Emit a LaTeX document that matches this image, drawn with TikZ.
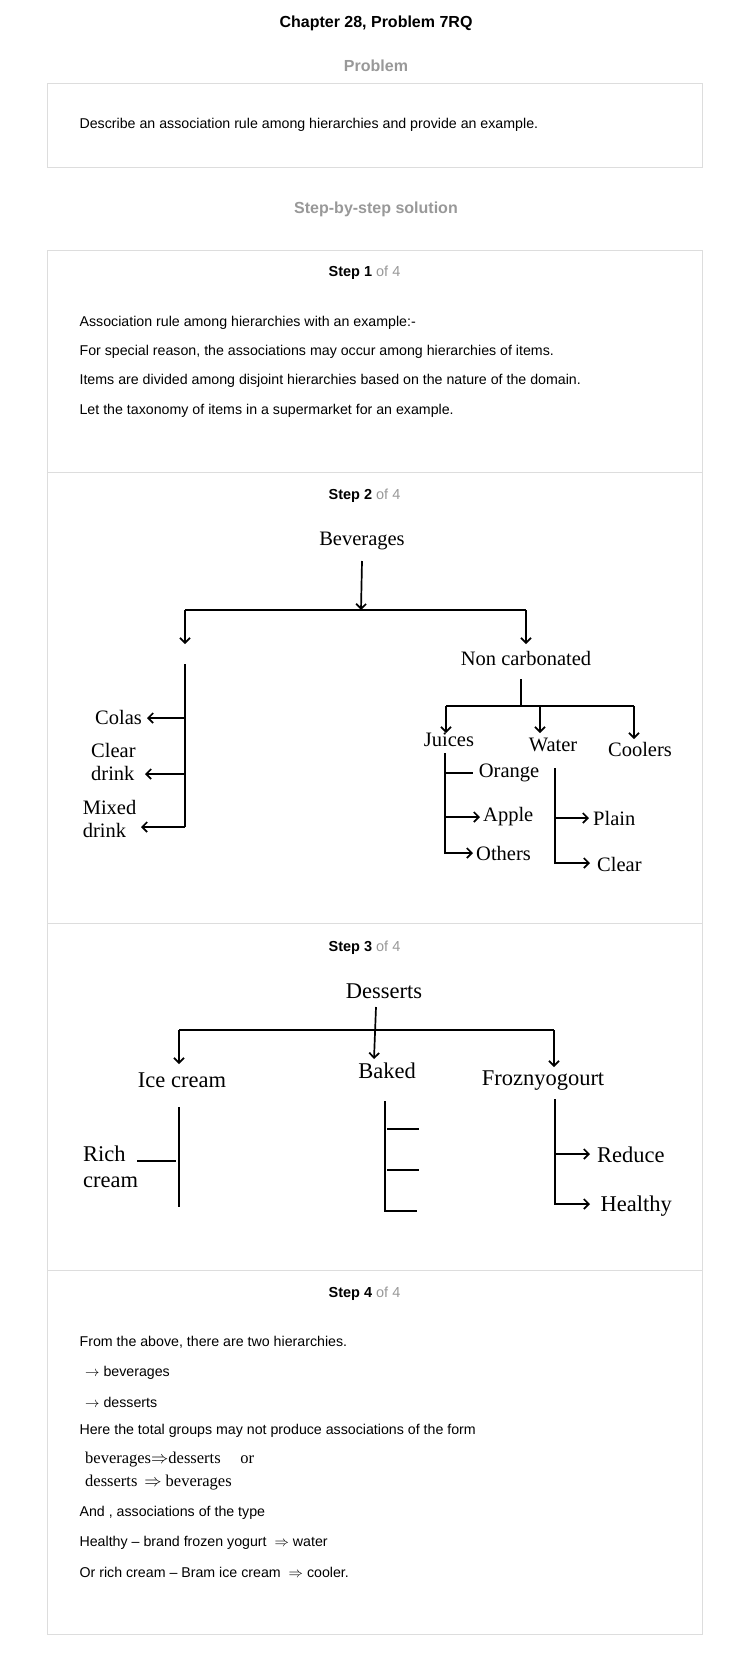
\documentclass[tikz,border=0pt]{standalone}
\usepackage{fontspec}
\setmainfont{Liberation Sans}
\newfontfamily\serifttl{Liberation Serif}
\usetikzlibrary{arrows.meta}
\definecolor{boxgray}{HTML}{DDDDDD}
\definecolor{headgray}{HTML}{999999}

\begin{document}
\begin{tikzpicture}[x=1pt,y=-1pt,
    txt/.style={anchor=west,inner sep=0pt,yshift=-2pt,font=\fontsize{14.2}{16}\selectfont},
    head/.style={inner sep=0pt,yshift=-2pt,text=headgray,font=\bfseries\fontsize{16}{19}\selectfont},
    lbl/.style={inner sep=0pt,font=\serifttl\fontsize{20.5}{23}\selectfont},
    lblb/.style={inner sep=0pt,font=\serifttl\fontsize{22.5}{26}\selectfont},
    wire/.style={line width=1.7pt},
    arr/.style={wire,-{Straight Barb[length=5pt,width=10pt]}}]
    \useasboundingbox[fill=white] (0,0) rectangle (752,1660);

    % page frame
    \node[inner sep=0pt,yshift=-2pt,font=\bfseries\fontsize{16}{19}\selectfont] (title) at (376,21) {Chapter 28, Problem 7RQ};
    \node[head] (prob) at (376,63.5) {Problem};
    \draw[boxgray] (47.5,83.5) rectangle (702,167);
    \node[txt] (probtxt) at (79.4,123) {Describe an association rule among hierarchies and provide an example.};
    \node[head] (sol) at (376,207.5) {Step-by-step solution};
    \draw[boxgray] (47.5,250) rectangle (702,1634);
    \foreach \y in {472,923,1270}
        \draw[boxgray] (47.5,\y) -- (702,\y);
    \foreach \n/\y in {1/271,2/493.5,3/946,4/1292}
        \node[inner sep=0pt,yshift=-2pt,font=\fontsize{14.5}{16}\selectfont] (step\n) at (364.5,\y) {\textbf{Step \n} \textcolor{headgray}{of 4}};

    % step 1
    \foreach \t/\y in {{Association rule among hierarchies with an example:-}/321,
        {For special reason, the associations may occur among hierarchies of items.}/349.5,
        {Items are divided among disjoint hierarchies based on the nature of the domain.}/379,
        {Let the taxonomy of items in a supermarket for an example.}/409}
        \node[txt] at (79.4,\y) {\t};

    % step 2: beverages
    \node[lbl] (bev) at (362,541) {Beverages};
    \node[lbl] (ncarb) at (526,658) {Non carbonated};
    \coordinate (bevs) at (362,561);
    \coordinate (bevj) at (361,610);
    \coordinate (bl) at (185,610);
    \coordinate (br) at (526,610);
    \draw[arr] (bevs) -- (bevj);
    \draw[wire] (bl) -- (br);
    \draw[arr] (bl) -- (185,644);
    \draw[arr] (br) -- (526,644);

    \node[lbl,anchor=west] (colas) at (95,717) {Colas};
    \node[lbl,anchor=west,align=left] (cleard) at (91,762) {Clear\\drink};
    \node[lbl,anchor=west,align=left] (mixed) at (82.6,819) {Mixed\\drink};
    \coordinate (ct) at (185,664);
    \coordinate (cb) at (185,827);
    \draw[wire] (ct) -- (cb);
    \draw[arr] (185,718) -- (147,718);
    \draw[arr] (185,774) -- (145,774);
    \draw[arr] (cb) -- (141,827);

    \node[lbl] (juices) at (449,740) {Juices};
    \node[lbl] (water) at (553,745) {Water};
    \node[lbl] (coolers) at (640,749) {Coolers};
    \coordinate (nct) at (521,679);
    \coordinate (ncj) at (521,706);
    \draw[wire] (nct) -- (ncj);
    \draw[wire] (446,706) -- (634,706);
    \draw[arr] (446,706) -- (446,733);
    \draw[arr] (540,706) -- (540,733);
    \draw[arr] (634,706) -- (634,739);

    \node[lbl,anchor=west] (orange) at (478.7,773) {Orange};
    \node[lbl,anchor=west] (apple) at (483,817) {Apple};
    \node[lbl,anchor=west] (others) at (476,853) {Others};
    \draw[arr] (445,753) |- ([xshift=-3pt]others.west);
    \draw[wire] (445,773) -- (473,773);
    \draw[arr] (445,817) -- ([xshift=-3pt]apple.west);

    \node[lbl,anchor=west] (plain) at (593,818) {Plain};
    \node[lbl,anchor=west] (clear) at (597,864) {Clear};
    \draw[arr] (555,768) |- (590,863);
    \draw[arr] (555,818) -- ([xshift=-4pt]plain.west);

    % step 3: desserts
    \node[lblb] (des) at (384,991) {Desserts};
    \node[lblb] (icecr) at (182,1080) {Ice cream};
    \node[lblb] (baked) at (387,1071) {Baked};
    \node[lblb] (froz) at (543,1081) {Froznyogourt};
    \coordinate (dl) at (179,1030);
    \coordinate (dr) at (554,1030);
    \draw[arr] (376,1007) -- (374,1059);
    \draw[wire] (dl) -- (dr);
    \draw[arr] (dl) -- (179,1064);
    \draw[arr] (dr) -- (554,1067);

    \node[lblb,anchor=west,align=left] (rich) at (83,1167) {Rich\\cream};
    \draw[wire] (179,1107) -- (179,1207);
    \draw[wire] (137,1161) -- (176,1161);

    \draw[wire] (385,1101) |- (417,1211);
    \foreach \y in {1129,1170}
        \draw[wire] (387,\y) -- (419,\y);

    \node[lblb,anchor=west] (reduce) at (597,1155) {Reduce};
    \node[lblb,anchor=west] (healthy) at (600.5,1206) {Healthy};
    \draw[arr] (555,1099) |- (590,1204);
    \draw[arr] (555,1154) -- (590,1154);

    % step 4
    \foreach \t/\y in {{From the above, there are two hierarchies.}/1340,
        {Here the total groups may not produce associations of the form}/1429,
        {And , associations of the type}/1511,
        {Healthy -- brand frozen yogurt \ $\Rightarrow$ water}/1541,
        {Or rich cream -- Bram ice cream \ $\Rightarrow$ cooler.}/1570}
        \node[txt] at (79.4,\y) {\t};
    \node[txt] (bevl) at (85,1371) {$\rightarrow$ beverages};
    \node[txt] (desl) at (85,1400) {$\rightarrow$ desserts};
    \node[txt,font=\serifttl\fontsize{16.5}{18}\selectfont] (form1) at (85,1458) {beverages$\Rightarrow$desserts\hspace{1.2em}or};
    \node[txt,font=\serifttl\fontsize{16.5}{18}\selectfont] (form2) at (85,1481) {desserts \,$\Rightarrow$ beverages};
\end{tikzpicture}
\end{document}
